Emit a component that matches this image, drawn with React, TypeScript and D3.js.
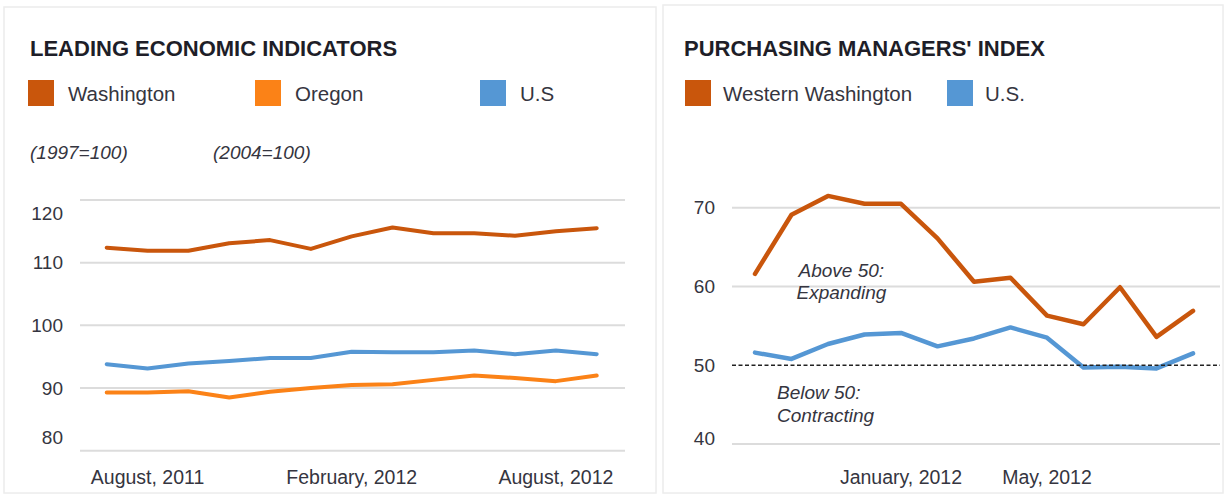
import React from "react";
import * as d3 from "d3";

// ---------- Leading economic indicators (left panel) ----------
const leadingPeriods = ["p01", "p02", "p03", "p04", "p05", "p06", "p07", "p08", "p09", "p10", "p11", "p12", "p13"];
const washington = [112.4, 111.9, 111.9, 113.1, 113.6, 112.2, 114.2, 115.6, 114.7, 114.7, 114.3, 115.0, 115.5];
const oregon = [89.3, 89.3, 89.5, 88.5, 89.4, 90.0, 90.5, 90.6, 91.3, 92.0, 91.6, 91.1, 92.0];
const usLeading = [93.8, 93.1, 93.9, 94.3, 94.8, 94.8, 95.8, 95.7, 95.7, 96.0, 95.4, 96.0, 95.4];
const leadingTicks = [80, 90, 100, 110, 120];
const leadingXLabelPeriods = ["p02", "p07", "p12"];
const leadingXLabels = ["August, 2011", "February, 2012", "August, 2012"];
const leadingLegend = ["Washington", "Oregon", "U.S"];
const leadingBaseNotes = ["(1997=100)", "(2004=100)"];

// ---------- Purchasing managers' index (right panel) ----------
const pmiMonths = ["2011-09", "2011-10", "2011-11", "2011-12", "2012-01", "2012-02", "2012-03", "2012-04", "2012-05", "2012-06", "2012-07", "2012-08", "2012-09"];
const westernWashington = [61.6, 69.1, 71.5, 70.5, 70.5, 66.1, 60.6, 61.1, 56.3, 55.2, 59.9, 53.6, 56.9];
const usPmi = [51.6, 50.8, 52.7, 53.9, 54.1, 52.4, 53.4, 54.8, 53.5, 49.7, 49.8, 49.6, 51.5];
const pmiTicks = [40, 50, 60, 70];
const pmiXLabelMonths = ["2012-01", "2012-05"];
const pmiXLabels = ["January, 2012", "May, 2012"];
const pmiLegend = ["Western Washington", "U.S."];
const pmiThreshold = 50;

const C_WA = "#c9560c";
const C_OR = "#fb8217";
const C_US = "#5597d4";
const C_TEXT = "#353540";
const C_GRID = "#dcdcdc";
const FONT = "'Liberation Sans', Arial, sans-serif";

export default function App() {
  // left scales
  const xL = d3.scalePoint<string>().domain(leadingPeriods).range([106.7, 596.7]);
  const yL = d3.scaleLinear().domain([80, 120]).range([450.7, 200]);
  // right scales
  const xR = d3.scalePoint<string>().domain(pmiMonths).range([755, 1193]);
  const yR = d3.scaleLinear().domain([40, 70]).range([444, 207.7]);

  const lineL = d3
    .line<number>()
    .x((_, i) => xL(leadingPeriods[i]) as number)
    .y((d) => yL(d));
  const lineR = d3
    .line<number>()
    .x((_, i) => xR(pmiMonths[i]) as number)
    .y((d) => yR(d));

  const leftSeries = [
    { values: usLeading, color: C_US },
    { values: oregon, color: C_OR },
    { values: washington, color: C_WA },
  ];
  const rightSeries = [
    { values: usPmi, color: C_US },
    { values: westernWashington, color: C_WA },
  ];

  const leftNudge = (v: number) => (v === 120 ? 13 : v === 80 ? -13 : 0);
  const rightNudge = (v: number) => (v === 40 ? -6 : 0);

  const leftLegendX = [28, 255, 480];
  const rightLegendX = [685, 947];
  const legendColorsL = [C_WA, C_OR, C_US];
  const legendColorsR = [C_WA, C_US];

  return (
    <svg
      width={1226}
      height={497}
      style={{ position: "absolute", left: 0, top: 0, display: "block", background: "#fff" }}
      fontFamily={FONT}
    >
      {/* panel frames */}
      <rect x={4} y={7} width={652} height={486} fill="none" stroke="#ececec" strokeWidth={1.5} />
      <rect x={663} y={5} width={560} height={488} fill="none" stroke="#ececec" strokeWidth={1.5} />

      {/* ---------------- LEFT PANEL ---------------- */}
      <text x={30} y={56} fontSize={22} fontWeight="bold" fill="#1e1e28">
        LEADING ECONOMIC INDICATORS
      </text>
      {leadingLegend.map((name, i) => (
        <g key={name}>
          <rect x={leftLegendX[i]} y={80} width={26} height={26} fill={legendColorsL[i]} />
          <text x={leftLegendX[i] + 40} y={101} fontSize={20.5} fill={C_TEXT}>
            {name}
          </text>
        </g>
      ))}
      {leadingBaseNotes.map((t, i) => (
        <text key={t} x={i === 0 ? 30 : 213} y={159} fontSize={19} fontStyle="italic" fill={C_TEXT}>
          {t}
        </text>
      ))}

      {leadingTicks.map((v) => (
        <g key={v}>
          <line x1={80} x2={625} y1={yL(v)} y2={yL(v)} stroke={C_GRID} strokeWidth={2} />
          <text
            x={63}
            y={yL(v) + leftNudge(v)}
            dy="0.35em"
            textAnchor="end"
            fontSize={19}
            fill={C_TEXT}
          >
            {v}
          </text>
        </g>
      ))}

      {leftSeries.map((s, i) => (
        <path
          key={i}
          d={lineL(s.values) as string}
          fill="none"
          stroke={s.color}
          strokeWidth={4}
          strokeLinejoin="round"
          strokeLinecap="round"
        />
      ))}

      {leadingXLabelPeriods.map((p, i) => (
        <text key={p} x={xL(p) as number} y={484} textAnchor="middle" fontSize={19.5} fill={C_TEXT}>
          {leadingXLabels[i]}
        </text>
      ))}

      {/* ---------------- RIGHT PANEL ---------------- */}
      <text x={684} y={56} fontSize={22} fontWeight="bold" fill="#1e1e28">
        PURCHASING MANAGERS' INDEX
      </text>
      {pmiLegend.map((name, i) => (
        <g key={name}>
          <rect x={rightLegendX[i]} y={80} width={26} height={26} fill={legendColorsR[i]} />
          <text x={rightLegendX[i] + 38} y={101} fontSize={20.5} fill={C_TEXT}>
            {name}
          </text>
        </g>
      ))}

      {pmiTicks.map((v) => (
        <g key={v}>
          {v !== pmiThreshold && (
            <line x1={732} x2={1220} y1={yR(v)} y2={yR(v)} stroke={C_GRID} strokeWidth={2} />
          )}
          <text
            x={715}
            y={yR(v) + rightNudge(v)}
            dy="0.35em"
            textAnchor="end"
            fontSize={19}
            fill={C_TEXT}
          >
            {v}
          </text>
        </g>
      ))}

      {rightSeries.map((s, i) => (
        <path
          key={i}
          d={lineR(s.values) as string}
          fill="none"
          stroke={s.color}
          strokeWidth={4.5}
          strokeLinejoin="round"
          strokeLinecap="round"
        />
      ))}

      <line
        x1={732}
        x2={1220}
        y1={yR(pmiThreshold)}
        y2={yR(pmiThreshold)}
        stroke="#222"
        strokeWidth={1.6}
        strokeDasharray="4 2.5"
      />

      <g fontSize={19} fontStyle="italic" fill={C_TEXT}>
        <text x={(xR(pmiMonths[1]) as number) + 7} y={yR(62.1)} dy="0.35em">
          Above 50:
        </text>
        <text x={(xR(pmiMonths[1]) as number) + 5} y={yR(59.2)} dy="0.35em">
          Expanding
        </text>
        <text x={(xR(pmiMonths[0]) as number) + 22} y={yR(46.6)} dy="0.35em">
          Below 50:
        </text>
        <text x={(xR(pmiMonths[0]) as number) + 22} y={yR(43.6)} dy="0.35em">
          Contracting
        </text>
      </g>

      {pmiXLabelMonths.map((m, i) => (
        <text key={m} x={xR(m) as number} y={484} textAnchor="middle" fontSize={19.5} fill={C_TEXT}>
          {pmiXLabels[i]}
        </text>
      ))}
    </svg>
  );
}
